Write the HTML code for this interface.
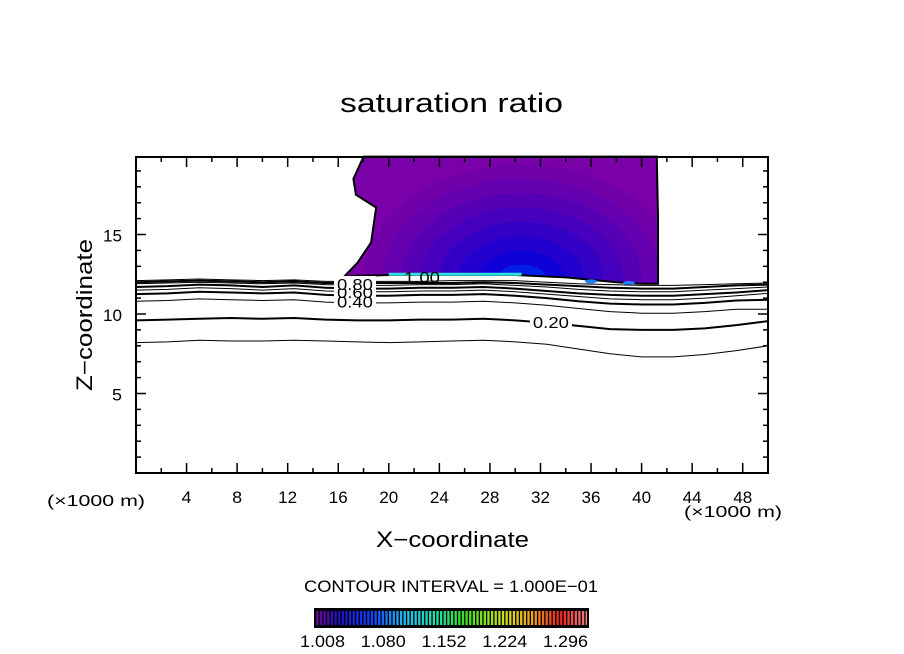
<!DOCTYPE html>
<html><head><meta charset="utf-8"><style>
html,body{margin:0;padding:0;background:#fff;}
svg{display:block;font-family:"Liberation Sans","DejaVu Sans",sans-serif;}
</style></head><body>
<svg id="chart" width="904" height="654" viewBox="0 0 904 654" xmlns="http://www.w3.org/2000/svg">
<rect x="0" y="0" width="904" height="654" fill="#fff"/>
<text x="340" y="112" font-size="27" textLength="223" lengthAdjust="spacingAndGlyphs">saturation ratio</text>
<g id="plot"></g>
<text transform="translate(92,391) rotate(-90)" font-size="22" textLength="152" lengthAdjust="spacingAndGlyphs">Z−coordinate</text>
<text x="376" y="547" font-size="22" textLength="153" lengthAdjust="spacingAndGlyphs">X−coordinate</text>
<text x="47" y="506" font-size="16" textLength="98" lengthAdjust="spacingAndGlyphs">(×1000 m)</text>
<text x="684" y="517" font-size="16" textLength="98" lengthAdjust="spacingAndGlyphs">(×1000 m)</text>
<text x="304" y="592" font-size="17" textLength="294" lengthAdjust="spacingAndGlyphs">CONTOUR INTERVAL = 1.000E−01</text>
<g id="cbar"></g>
</svg>
<script>
// ---- data ----
const xNodes = [0,2.5,5,7.5,10,12.5,15,17.5,20,22.5,25,27.5,30,32.5,35,37.5,40,42.5,45,47.5,50];
const contourLevels = ["0.10","0.20","0.30","0.40","0.50","0.60","0.70","0.80","0.90"];
const contourZ = [
 [8.2,8.25,8.35,8.3,8.3,8.35,8.3,8.25,8.2,8.25,8.3,8.35,8.25,8.1,7.8,7.5,7.3,7.3,7.45,7.7,8.0],
 [9.6,9.65,9.7,9.75,9.7,9.75,9.65,9.6,9.6,9.65,9.65,9.7,9.6,9.45,9.25,9.05,9.0,9.0,9.1,9.3,9.55],
 [10.8,10.85,10.95,10.9,10.85,10.9,10.75,10.7,10.7,10.75,10.75,10.8,10.7,10.55,10.35,10.15,10.05,10.05,10.15,10.3,10.3],
 [11.25,11.3,11.4,11.35,11.3,11.35,11.2,11.15,11.15,11.2,11.2,11.25,11.15,11.0,10.8,10.65,10.6,10.6,10.7,10.85,10.9],
 [11.5,11.55,11.65,11.6,11.5,11.6,11.45,11.4,11.4,11.45,11.45,11.5,11.4,11.25,11.1,10.95,10.9,10.9,11.0,11.15,11.3],
 [11.7,11.75,11.85,11.8,11.7,11.8,11.65,11.6,11.6,11.65,11.65,11.7,11.6,11.45,11.3,11.2,11.15,11.15,11.25,11.35,11.5],
 [11.9,11.95,12.0,11.95,11.9,11.95,11.85,11.8,11.8,11.85,11.85,11.9,11.8,11.7,11.55,11.45,11.4,11.4,11.5,11.6,11.7],
 [12.0,12.05,12.1,12.05,12.0,12.05,11.95,11.95,11.95,11.95,11.95,12.0,11.95,11.85,11.75,11.65,11.6,11.6,11.7,11.8,11.85],
 [12.1,12.15,12.2,12.15,12.1,12.15,12.05,12.05,12.05,12.05,12.1,12.1,12.1,12.0,11.9,11.85,11.8,11.8,11.85,11.9,11.95]
];
const thickLevels = [false,true,false,true,false,true,false,true,false];
const regionX = [18,17.2,17.4,19,18.6,17.5,16.4,17,20,25,30,34,38,40,41.3,41.3,41.2];
const regionZ = [19.9,18.5,17.5,16.7,14.5,13.2,12.3,12.4,12.45,12.45,12.45,12.3,12.0,11.9,11.9,16,19.9];
const shadeColors = ["#7000aa","#6400b0","#5600b6","#4600bd","#3500c5","#2300cd","#1000d8","#0020e8"];
const shadeRx = [12.5,11,9.5,8,6.5,5,3.4,2];
const shadeRz = [7.2,6.3,5.4,4.5,3.6,2.7,1.8,0.9];
const xTicks = [4,8,12,16,20,24,28,32,36,40,44,48];
const yTicks = [5,10,15];
const cbarLabels = ["1.008","1.080","1.152","1.224","1.296"];
const cbarStops = [[0,"#6a0aa0"],[0.08,"#2010c0"],[0.2,"#1040ff"],[0.33,"#20c0f0"],[0.45,"#20e0a0"],[0.55,"#40e020"],[0.7,"#d0e020"],[0.8,"#f0a020"],[0.9,"#f02020"],[1,"#f08080"]];

// ---- axes ----
const X0=136,X1=768,Y0=473,Y1=157;
const sx=v=>X0+(v/50)*(X1-X0);
const sz=v=>Y0-(v/19.875)*(Y0-Y1);
const NS="http://www.w3.org/2000/svg";
const plot=document.getElementById('plot');
function mk(tag,attrs,parent){const e=document.createElementNS(NS,tag);for(const k in attrs)e.setAttribute(k,attrs[k]);(parent||plot).appendChild(e);return e;}

const regionPts=regionX.map((x,j)=>sx(x)+","+sz(regionZ[j])).join(" ");
const defs=mk('defs',{});
const cp=mk('clipPath',{id:'regclip'},defs);
mk('polygon',{points:regionPts},cp);
const base=mk('polygon',{points:regionPts,fill:"#7a00a8"});


const g=mk('g',{'clip-path':'url(#regclip)'});
const pxPerKmX=(X1-X0)/50, pxPerKmZ=(Y0-Y1)/19.875;
shadeColors.forEach((c,i)=>{
  const e=mk('ellipse',{cx:sx(30.5),cy:sz(12.2),rx:shadeRx[i]*pxPerKmX,ry:shadeRz[i]*pxPerKmZ,fill:c},g);
  
  
});
const outline=mk('polygon',{points:regionPts,fill:"none",stroke:"#000","stroke-width":2});


const cyan=mk('line',{x1:sx(20),y1:sz(12.5),x2:sx(30.5),y2:sz(12.5),stroke:"#30e0e0","stroke-width":3});


[[36,12.05],[39,11.95]].forEach(p=>{const e=mk('ellipse',{cx:sx(p[0]),cy:sz(p[1]),rx:6,ry:2,fill:"#2080ff"});

});
const l100=mk('text',{x:sx(21.2),y:sz(12.4)+7,"font-size":16,textLength:36,lengthAdjust:"spacingAndGlyphs"});l100.textContent="1.00";



// contour lines
contourZ.forEach((zs,i)=>{
  const d=xNodes.map((x,j)=>(j?"L":"M")+sx(x)+","+sz(zs[j])).join(" ");
  const p=mk('path',{d:d,fill:"none",stroke:"#000","stroke-width":thickLevels[i]?2:1});
  
  
});
function lbl(txt,x,z){
  const r=mk('rect',{x:sx(x)-3,y:sz(z)-7,width:42,height:13,fill:"#fff"});
  
  
  const t=mk('text',{x:sx(x),y:sz(z)+7,"font-size":16,textLength:36,lengthAdjust:"spacingAndGlyphs"});t.textContent=txt;
  
  
}
lbl("0.20",31.4,9.55);lbl("0.40",15.9,10.85);lbl("0.60",15.9,11.45);lbl("0.80",15.9,11.95);

// frame and ticks
const fr=mk('rect',{x:X0,y:Y1,width:X1-X0,height:Y0-Y1,fill:"none",stroke:"#000","stroke-width":2});


for(let v=1;v<50;v++){const big=v%4===0, mid=v%2===0;const L=big?10:(mid?5:0);if(!L)continue;
  mk('line',{x1:sx(v),y1:Y0,x2:sx(v),y2:Y0-L,stroke:"#000","stroke-width":1.5});
  mk('line',{x1:sx(v),y1:Y1,x2:sx(v),y2:Y1+L,stroke:"#000","stroke-width":1.5});}
for(let v=1;v<20;v++){const L=v%5===0?10:5;
  mk('line',{x1:X0,y1:sz(v),x2:X0+L,y2:sz(v),stroke:"#000","stroke-width":1.5});
  mk('line',{x1:X1,y1:sz(v),x2:X1-L,y2:sz(v),stroke:"#000","stroke-width":1.5});}
xTicks.forEach(v=>{const w=v<10?10:19;const t=mk('text',{x:sx(v)-w/2,y:Y0+30,"font-size":17,textLength:w,lengthAdjust:"spacingAndGlyphs"});t.textContent=v;
  
  });
yTicks.forEach(v=>{const w=v<10?10:19;const t=mk('text',{x:X0-14-w,y:sz(v)+7,"font-size":17,textLength:w,lengthAdjust:"spacingAndGlyphs"});t.textContent=v;
  
  });

// colorbar
const cb=document.getElementById('cbar');
const CB0=315,CB1=588,CBy=609,CBh=18,N=75;
function lerpCol(t){for(let i=1;i<cbarStops.length;i++){if(t<=cbarStops[i][0]){const a=cbarStops[i-1],b=cbarStops[i];const f=(t-a[0])/(b[0]-a[0]);
  const h=s=>[1,3,5].map(k=>parseInt(s.substr(k,2),16));const A=h(a[1]),B=h(b[1]);return "rgb("+A.map((v,k)=>Math.round(v+(B[k]-v)*f)).join(",")+")";}}return cbarStops[cbarStops.length-1][1];}
const bg=mk('rect',{x:CB0,y:CBy,width:CB1-CB0,height:CBh,fill:"#000"},cb);


const w=(CB1-CB0)/N;
for(let i=0;i<N;i++){mk('rect',{x:CB0+i*w+1.2,y:CBy+2,width:w-1.3,height:CBh-4,fill:lerpCol(i/(N-1))},cb);}
mk('rect',{x:CB0,y:CBy,width:CB1-CB0,height:CBh,fill:"none",stroke:"#000","stroke-width":2},cb);
cbarLabels.forEach((s,i)=>{const t=mk('text',{x:300+i*60.75,y:647,"font-size":17,textLength:45,lengthAdjust:"spacingAndGlyphs"},cb);t.textContent=s;
  
  });
</script>
</body></html>
